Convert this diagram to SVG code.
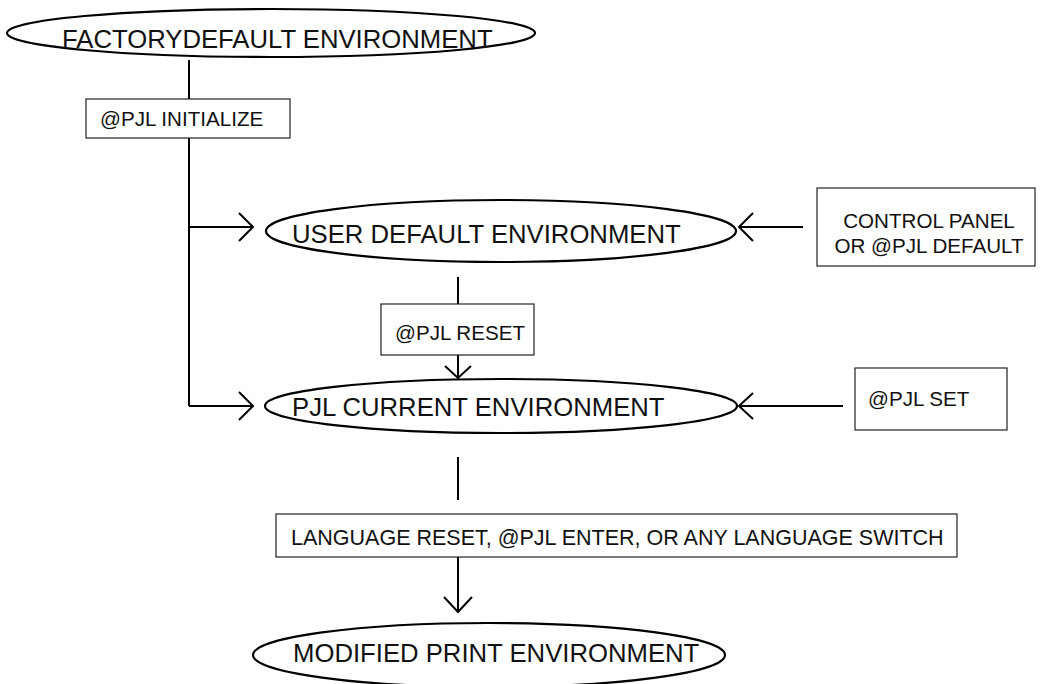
<svg xmlns="http://www.w3.org/2000/svg" width="1040" height="684" viewBox="0 0 1040 684">
<style>
.ell{fill:none;stroke:#000;stroke-width:2.2}
.box{fill:#fff;stroke:#222;stroke-width:1.2}
.ln{fill:none;stroke:#000;stroke-width:2}
.big{font-family:"Liberation Sans",Arial,sans-serif;font-size:25.7px;fill:#111}
.sm{font-family:"Liberation Sans",Arial,sans-serif;font-size:20.6px;fill:#111}
</style>
<rect width="1040" height="684" fill="#fff"/>
<g id="connectors">
<line class="ln" x1="189" y1="60" x2="189" y2="99"/>
<line class="ln" x1="189" y1="138" x2="189" y2="406"/>
<path class="ln" d="M189 227H253M239 213L253 227L239 241"/>
<path class="ln" d="M189 406H253M239 392L253 406L239 420"/>
<path class="ln" d="M803 227H739M753 213L739 227L753 241"/>
<path class="ln" d="M843 406H739M753 393L739 406L753 419"/>
<line class="ln" x1="458" y1="277" x2="458" y2="304"/>
<path class="ln" d="M458 355V378M445 366L458 378L471 366"/>
<line class="ln" x1="458" y1="457" x2="458" y2="500"/>
<path class="ln" d="M458 557V612M444 597L458 612L472 597"/>
</g>
<g id="factory">
<ellipse class="ell" cx="271" cy="33" rx="264" ry="24"/>
<text class="big" x="62" y="48">FACTORYDEFAULT ENVIRONMENT</text>
</g>
<g id="initialize">
<rect class="box" x="86" y="99" width="204" height="39"/>
<text class="sm" x="100" y="126">@PJL INITIALIZE</text>
</g>
<g id="userdefault">
<ellipse class="ell" cx="501" cy="231" rx="235" ry="31"/>
<text class="big" x="292" y="243">USER DEFAULT ENVIRONMENT</text>
</g>
<g id="controlpanel">
<rect class="box" x="817" y="188" width="218" height="78"/>
<text class="sm" x="929" y="228" text-anchor="middle">CONTROL PANEL</text>
<text class="sm" x="929" y="253" text-anchor="middle">OR @PJL DEFAULT</text>
</g>
<g id="reset">
<rect class="box" x="381" y="304" width="153" height="51"/>
<text class="sm" x="395" y="340">@PJL RESET</text>
</g>
<g id="current">
<ellipse class="ell" cx="501" cy="406" rx="236" ry="27"/>
<text class="big" x="292" y="416">PJL CURRENT ENVIRONMENT</text>
</g>
<g id="set">
<rect class="box" x="855" y="368" width="152" height="62"/>
<text class="sm" x="868" y="406">@PJL SET</text>
</g>
<g id="language">
<rect class="box" x="276" y="514" width="681" height="43"/>
<text class="sm" x="291" y="545" style="font-size:21.5px">LANGUAGE RESET, @PJL ENTER, OR ANY LANGUAGE SWITCH</text>
</g>
<g id="modified">
<ellipse class="ell" cx="489" cy="655" rx="236" ry="32"/>
<text class="big" x="293" y="662">MODIFIED PRINT ENVIRONMENT</text>
</g>
</svg>
